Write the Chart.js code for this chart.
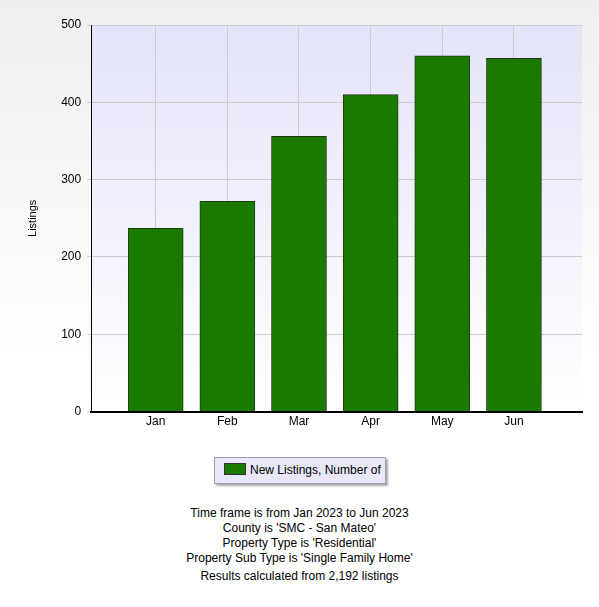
<!DOCTYPE html>
<html><head><meta charset="utf-8">
<script src="https://cdn.jsdelivr.net/npm/chart.js@4"></script>
<style>
body{margin:0;width:599px;height:607px;background:linear-gradient(#efefef,#fff 60%);font-family:"Liberation Sans",Arial,sans-serif;overflow:hidden}
#wrap{position:absolute;left:0;top:0;width:599px;height:432px}
#legend{position:absolute;left:214px;top:457px;width:170px;height:25px;border:1px solid #9a9ab0;background:#e8e8f8;font-size:12px;line-height:25px;white-space:nowrap;box-shadow:2px 2px 2px #aaa}
#legend span{display:inline-block;width:20px;height:10px;background:#1a7a00;border:1px solid #333;margin:0 4px 0 9px;vertical-align:-1px}
#info{position:absolute;left:0;top:506px;width:599px;text-align:center;font-size:12px;line-height:15px;color:#000}
</style></head><body>
<div id="wrap"><canvas id="c"></canvas></div>
<div id="legend"><span></span>New Listings, Number of</div>
<div id="info">Time frame is from Jan 2023 to Jun 2023<br>County is 'SMC - San Mateo'<br>Property Type is 'Residential'<br>Property Sub Type is 'Single Family Home'<br><div style="margin-top:3px">Results calculated from 2,192 listings</div></div>
<script>
var meses = ['Jan','Feb','Mar','Apr','May','Jun']
var novas_listagens = [237, 272, 356, 410, 460, 457]
var ticks_y = [0,100,200,300,400,500]

var fundo_plot = {
  id:'fundo_plot',
  beforeDraw: function(chart){
    var a = chart.chartArea, ctx = chart.ctx
    var g = ctx.createLinearGradient(0,a.top,0,a.bottom)
    g.addColorStop(0,'#e4e4fa'); g.addColorStop(1,'#ffffff')
    ctx.save(); ctx.fillStyle = g; ctx.fillRect(a.left,a.top,a.right-a.left,a.bottom-a.top); ctx.restore()
  }
}
var pontos = novas_listagens.map(function(v,i){ return {x:i, y:v} })
new Chart(document.getElementById('c').getContext('2d'), {
  type:'bar',
  data:{ datasets:[{ label:'New Listings, Number of', data:pontos, backgroundColor:'#1a7a00', borderColor:'#1f3a10', borderWidth:1, barThickness:55 }] },
  options:{
    responsive:true, maintainAspectRatio:false, animation:false,
    layout:{ padding:{ left:22, right:17, top:25, bottom:0 } },
    plugins:{ legend:{ display:false }, tooltip:{ enabled:false } },
    scales:{
      x:{ type:'linear', offset:false, min:-0.9, max:5.95, afterBuildTicks:function(s){ s.ticks = meses.map(function(m,i){ return {value:i} }) },
        ticks:{ callback:function(v){ return meses[v] }, color:'#000', font:{ family:'Liberation Sans', size:12 } },
        grid:{ color:'#cccccc', drawTicks:false, offset:false }, border:{ color:'#000', width:2 } },
      y:{ min:0, max:500, afterBuildTicks:function(s){ s.ticks = ticks_y.map(function(v){ return {value:v} }) },
        ticks:{ color:'#000', font:{ family:'Liberation Sans', size:12 }, padding:6 },
        grid:{ color:'#cccccc', drawTicks:true, tickLength:4 }, border:{ color:'#000', width:1 },
        title:{ display:true, text:'Listings', font:{ family:'Liberation Sans', size:11 }, color:'#000', padding:{ bottom:16 } } }
    }
  },
  plugins:[fundo_plot]
})
</script>
</body></html>
